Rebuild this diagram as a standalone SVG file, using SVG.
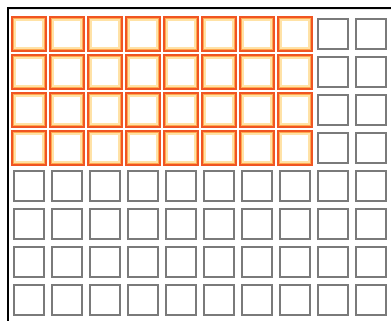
<svg xmlns="http://www.w3.org/2000/svg" width="391" height="321" viewBox="0 0 391 321">
<style>
.o1{fill:#fff;stroke:#f05522;stroke-width:2}
.o2{fill:none;stroke:#ffa850;stroke-width:1}
.o3{fill:none;stroke:#ffe2a6;stroke-width:2}
.g{fill:#fff;stroke:#7a7a7a;stroke-width:2}
</style>
<defs>
<g id="on"><rect class="o1" x="-17" y="-17" width="34" height="34"/><rect class="o2" x="-15.5" y="-15.5" width="31" height="31"/><rect class="o3" x="-14" y="-14" width="28" height="28"/></g>
<g id="off"><rect class="g" x="-15" y="-15" width="30" height="30"/></g>
</defs>
<rect x="0" y="0" width="391" height="321" fill="#fff"/>
<g id="frame">
<line x1="9" y1="9.5" x2="391" y2="9.5" stroke="#e6e6e6" stroke-width="1"/>
<line x1="8" y1="8" x2="391" y2="8" stroke="#000" stroke-width="2"/>
<line x1="8" y1="7" x2="8" y2="321" stroke="#000" stroke-width="2"/>
</g>
<g id="cells">
<g id="r0c0" transform="translate(29,34)"><use href="#on"/></g>
<g id="r0c1" transform="translate(67,34)"><use href="#on"/></g>
<g id="r0c2" transform="translate(105,34)"><use href="#on"/></g>
<g id="r0c3" transform="translate(143,34)"><use href="#on"/></g>
<g id="r0c4" transform="translate(181,34)"><use href="#on"/></g>
<g id="r0c5" transform="translate(219,34)"><use href="#on"/></g>
<g id="r0c6" transform="translate(257,34)"><use href="#on"/></g>
<g id="r0c7" transform="translate(295,34)"><use href="#on"/></g>
<g id="r0c8" transform="translate(333,34)"><use href="#off"/></g>
<g id="r0c9" transform="translate(371,34)"><use href="#off"/></g>
<g id="r1c0" transform="translate(29,72)"><use href="#on"/></g>
<g id="r1c1" transform="translate(67,72)"><use href="#on"/></g>
<g id="r1c2" transform="translate(105,72)"><use href="#on"/></g>
<g id="r1c3" transform="translate(143,72)"><use href="#on"/></g>
<g id="r1c4" transform="translate(181,72)"><use href="#on"/></g>
<g id="r1c5" transform="translate(219,72)"><use href="#on"/></g>
<g id="r1c6" transform="translate(257,72)"><use href="#on"/></g>
<g id="r1c7" transform="translate(295,72)"><use href="#on"/></g>
<g id="r1c8" transform="translate(333,72)"><use href="#off"/></g>
<g id="r1c9" transform="translate(371,72)"><use href="#off"/></g>
<g id="r2c0" transform="translate(29,110)"><use href="#on"/></g>
<g id="r2c1" transform="translate(67,110)"><use href="#on"/></g>
<g id="r2c2" transform="translate(105,110)"><use href="#on"/></g>
<g id="r2c3" transform="translate(143,110)"><use href="#on"/></g>
<g id="r2c4" transform="translate(181,110)"><use href="#on"/></g>
<g id="r2c5" transform="translate(219,110)"><use href="#on"/></g>
<g id="r2c6" transform="translate(257,110)"><use href="#on"/></g>
<g id="r2c7" transform="translate(295,110)"><use href="#on"/></g>
<g id="r2c8" transform="translate(333,110)"><use href="#off"/></g>
<g id="r2c9" transform="translate(371,110)"><use href="#off"/></g>
<g id="r3c0" transform="translate(29,148)"><use href="#on"/></g>
<g id="r3c1" transform="translate(67,148)"><use href="#on"/></g>
<g id="r3c2" transform="translate(105,148)"><use href="#on"/></g>
<g id="r3c3" transform="translate(143,148)"><use href="#on"/></g>
<g id="r3c4" transform="translate(181,148)"><use href="#on"/></g>
<g id="r3c5" transform="translate(219,148)"><use href="#on"/></g>
<g id="r3c6" transform="translate(257,148)"><use href="#on"/></g>
<g id="r3c7" transform="translate(295,148)"><use href="#on"/></g>
<g id="r3c8" transform="translate(333,148)"><use href="#off"/></g>
<g id="r3c9" transform="translate(371,148)"><use href="#off"/></g>
<g id="r4c0" transform="translate(29,186)"><use href="#off"/></g>
<g id="r4c1" transform="translate(67,186)"><use href="#off"/></g>
<g id="r4c2" transform="translate(105,186)"><use href="#off"/></g>
<g id="r4c3" transform="translate(143,186)"><use href="#off"/></g>
<g id="r4c4" transform="translate(181,186)"><use href="#off"/></g>
<g id="r4c5" transform="translate(219,186)"><use href="#off"/></g>
<g id="r4c6" transform="translate(257,186)"><use href="#off"/></g>
<g id="r4c7" transform="translate(295,186)"><use href="#off"/></g>
<g id="r4c8" transform="translate(333,186)"><use href="#off"/></g>
<g id="r4c9" transform="translate(371,186)"><use href="#off"/></g>
<g id="r5c0" transform="translate(29,224)"><use href="#off"/></g>
<g id="r5c1" transform="translate(67,224)"><use href="#off"/></g>
<g id="r5c2" transform="translate(105,224)"><use href="#off"/></g>
<g id="r5c3" transform="translate(143,224)"><use href="#off"/></g>
<g id="r5c4" transform="translate(181,224)"><use href="#off"/></g>
<g id="r5c5" transform="translate(219,224)"><use href="#off"/></g>
<g id="r5c6" transform="translate(257,224)"><use href="#off"/></g>
<g id="r5c7" transform="translate(295,224)"><use href="#off"/></g>
<g id="r5c8" transform="translate(333,224)"><use href="#off"/></g>
<g id="r5c9" transform="translate(371,224)"><use href="#off"/></g>
<g id="r6c0" transform="translate(29,262)"><use href="#off"/></g>
<g id="r6c1" transform="translate(67,262)"><use href="#off"/></g>
<g id="r6c2" transform="translate(105,262)"><use href="#off"/></g>
<g id="r6c3" transform="translate(143,262)"><use href="#off"/></g>
<g id="r6c4" transform="translate(181,262)"><use href="#off"/></g>
<g id="r6c5" transform="translate(219,262)"><use href="#off"/></g>
<g id="r6c6" transform="translate(257,262)"><use href="#off"/></g>
<g id="r6c7" transform="translate(295,262)"><use href="#off"/></g>
<g id="r6c8" transform="translate(333,262)"><use href="#off"/></g>
<g id="r6c9" transform="translate(371,262)"><use href="#off"/></g>
<g id="r7c0" transform="translate(29,300)"><use href="#off"/></g>
<g id="r7c1" transform="translate(67,300)"><use href="#off"/></g>
<g id="r7c2" transform="translate(105,300)"><use href="#off"/></g>
<g id="r7c3" transform="translate(143,300)"><use href="#off"/></g>
<g id="r7c4" transform="translate(181,300)"><use href="#off"/></g>
<g id="r7c5" transform="translate(219,300)"><use href="#off"/></g>
<g id="r7c6" transform="translate(257,300)"><use href="#off"/></g>
<g id="r7c7" transform="translate(295,300)"><use href="#off"/></g>
<g id="r7c8" transform="translate(333,300)"><use href="#off"/></g>
<g id="r7c9" transform="translate(371,300)"><use href="#off"/></g>
</g>
</svg>
